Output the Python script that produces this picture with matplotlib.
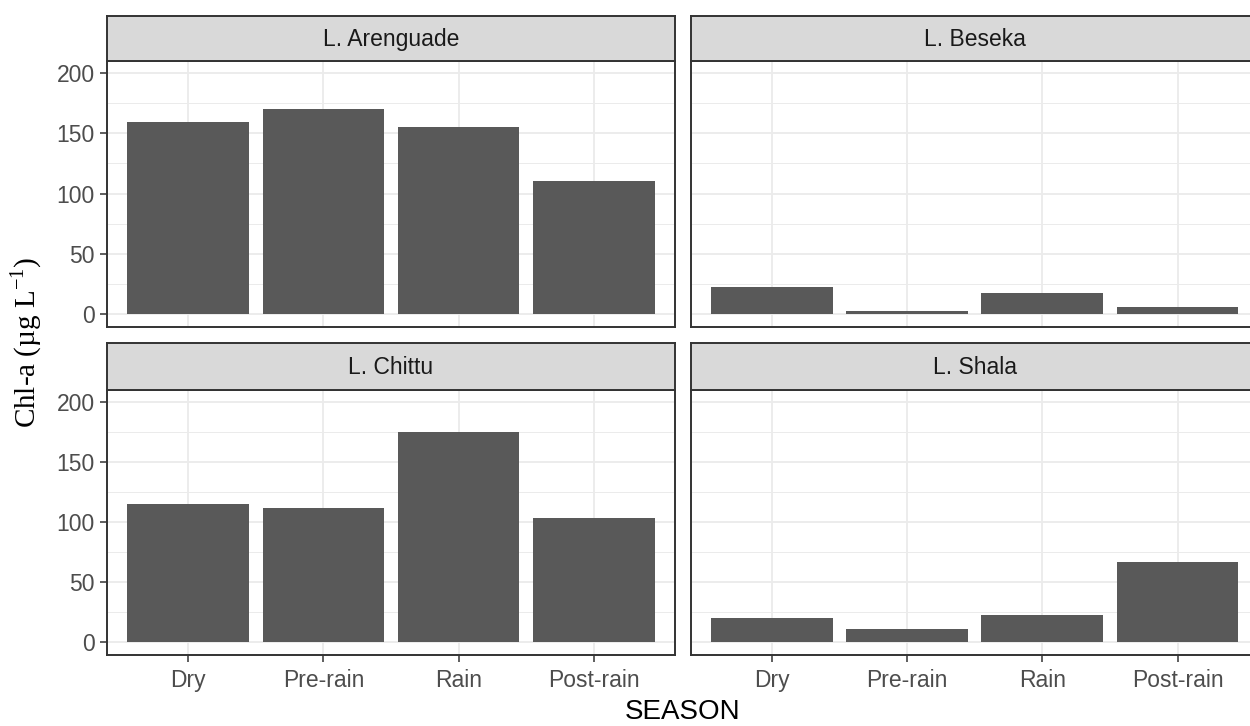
import numpy as np
import matplotlib.pyplot as plt

seasons = ["Dry", "Pre-rain", "Rain", "Post-rain"]
lakes = ["L. Arenguade", "L. Beseka", "L. Chittu", "L. Shala"]
arenguade = [159, 170, 155, 110]
beseka = [23, 3, 18, 6]
chittu = [115, 112, 175, 103]
shala = [20, 11, 23, 67]
chla = [arenguade, beseka, chittu, shala]

plt.rcParams["font.family"] = ["Liberation Sans", "DejaVu Sans"]
plt.rcParams["mathtext.fontset"] = "custom"
plt.rcParams["mathtext.rm"] = "Liberation Serif"

W, H = 1250, 726
fig = plt.figure(figsize=(W / 100, H / 100), dpi=100)


def box(x0, y0, x1, y1):
    return [x0 / W, 1 - y1 / H, (x1 - x0) / W, (y1 - y0) / H]


col_x = [(107, 675), (690.7, 1258.7)]
row_y = [(16, 61, 327), (343, 390, 655)]
edge = "#333333"

for i, lake in enumerate(lakes):
    r, c = i // 2, i % 2
    x0, x1 = col_x[c]
    s0, p0, p1 = row_y[r]

    ax = fig.add_axes(box(x0, p0, x1, p1))
    x = np.arange(len(seasons))
    ax.bar(x, chla[i], width=0.9, color="#595959", zorder=3)
    ax.set_xlim(-0.6, 3.6)
    ax.set_ylim(-10.5, 209.7)
    ax.set_xticks(x)
    ax.set_yticks(np.arange(0, 201, 50))
    ax.set_yticks(np.arange(25, 200, 50), minor=True)
    ax.grid(True, which="major", color="#EBEBEB", lw=1.3, zorder=0)
    ax.grid(True, which="minor", axis="y", color="#EBEBEB", lw=0.7, zorder=0)
    ax.set_axisbelow(True)
    for sp in ax.spines.values():
        sp.set_color(edge)
        sp.set_linewidth(1.4)
    ax.tick_params(which="major", length=5, width=1.1, color=edge,
                   labelcolor="#4D4D4D", labelsize=16.5)
    ax.tick_params(axis="y", pad=4)
    ax.tick_params(axis="x", pad=5)
    ax.tick_params(which="minor", length=0)
    if r == 1:
        ax.set_xticklabels(seasons)
    else:
        ax.tick_params(axis="x", length=0, labelbottom=False)
    if c == 1:
        ax.tick_params(axis="y", length=0, labelleft=False)

    st = fig.add_axes(box(x0, s0, x1, p0))
    st.set_facecolor("#D9D9D9")
    st.set_xticks([])
    st.set_yticks([])
    for sp in st.spines.values():
        sp.set_color(edge)
        sp.set_linewidth(1.4)
    st.text(0.5, 0.47, lake, ha="center", va="center", fontsize=16.5,
            color="#1A1A1A", transform=st.transAxes)

fig.text(26 / W, 1 - 342 / H, "Chl-a (µg L$^{-1}$)", rotation=90,
         ha="center", va="center", fontsize=21, family="Liberation Serif",
         color="black")
fig.text(683 / W, 1 - 712 / H, "SEASON", ha="center", va="center",
         fontsize=20, color="black")

fig.savefig("out.png", dpi=100)
